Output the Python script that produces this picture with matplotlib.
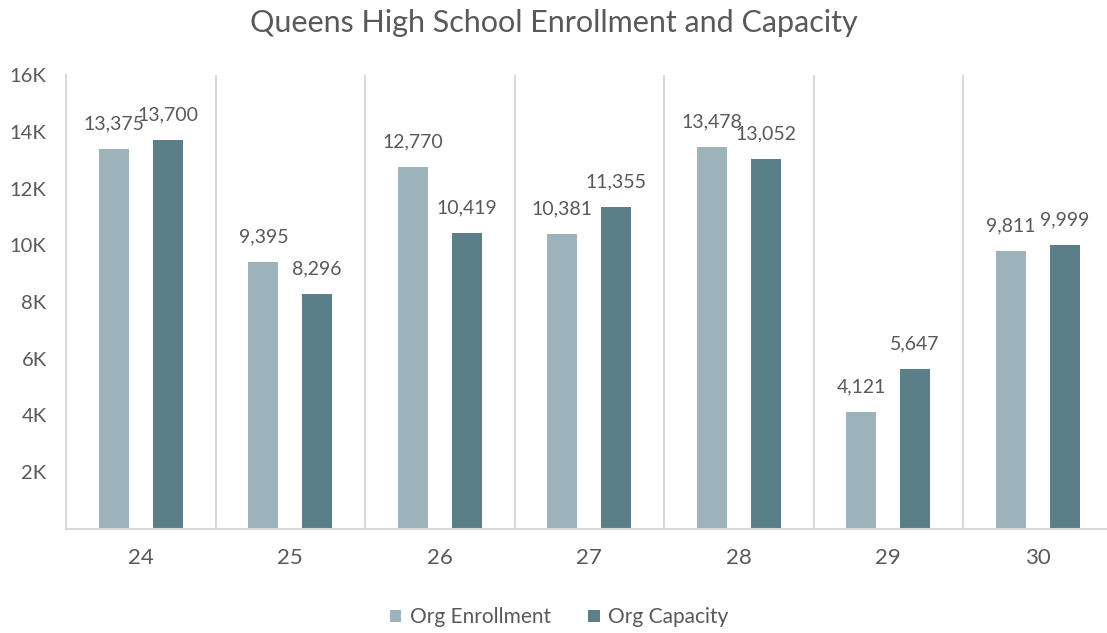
import matplotlib
matplotlib.use('Agg')
import matplotlib.pyplot as plt
import numpy as np

districts = ['24', '25', '26', '27', '28', '29', '30']
enrollment = [13375, 9395, 12770, 10381, 13478, 4121, 9811]
capacity = [13700, 8296, 10419, 11355, 13052, 5647, 9999]
ytick_vals = [2000, 4000, 6000, 8000, 10000, 12000, 14000, 16000]
ytick_labels = ['2K', '4K', '6K', '8K', '10K', '12K', '14K', '16K']

plt.rcParams['font.family'] = ['Lato', 'DejaVu Sans']
txt = '#595959'
c_enr = '#9DB3BB'
c_cap = '#5B7F89'
grid = '#D9D9D9'

fig = plt.figure(figsize=(11.07, 6.33), dpi=100)
ax = fig.add_axes([66/1107, 104/633, 1046.5/1107, 454/633])

x = np.arange(len(districts))
w = 0.2
off = 0.18
b1 = ax.bar(x - off, enrollment, w, color=c_enr, label='Org Enrollment')
b2 = ax.bar(x + off, capacity, w, color=c_cap, label='Org Capacity')

for bars, vals in [(b1, enrollment), (b2, capacity)]:
    for b, v in zip(bars, vals):
        ax.annotate(f'{v:,}', (b.get_x() + b.get_width()/2, v),
                    xytext=(0, 12), textcoords='offset points',
                    ha='center', va='bottom', fontsize=14, color=txt)

# separators between categories
for s in np.arange(0.5, len(districts) - 1, 1):
    ax.axvline(s, color=grid, lw=1.5, zorder=0)

ax.set_xlim(-0.5, len(districts) - 0.5)
ax.set_ylim(0, 16000)
ax.set_yticks(ytick_vals)
ax.set_yticklabels(ytick_labels)
ax.set_xticks(x)
ax.set_xticklabels(districts)
ax.tick_params(axis='y', length=0, pad=14, labelsize=14.5, labelcolor=txt)
ax.tick_params(axis='x', length=0, pad=14, labelsize=16, labelcolor=txt)

for sp in ['top', 'right']:
    ax.spines[sp].set_visible(False)
for sp in ['left', 'bottom']:
    ax.spines[sp].set_color(grid)
    ax.spines[sp].set_linewidth(1.5)

fig.text(0.5, 0.963, 'Queens High School Enrollment and Capacity',
         ha='center', va='center', fontsize=22, color=txt)

fig.legend(handles=[b1, b2], loc='center', bbox_to_anchor=(0.505, 0.025),
           ncol=2, frameon=False, fontsize=15, labelcolor=txt,
           handlelength=0.55, handleheight=0.55, handletextpad=0.4,
           columnspacing=1.8)

fig.savefig('out.png', dpi=100)
